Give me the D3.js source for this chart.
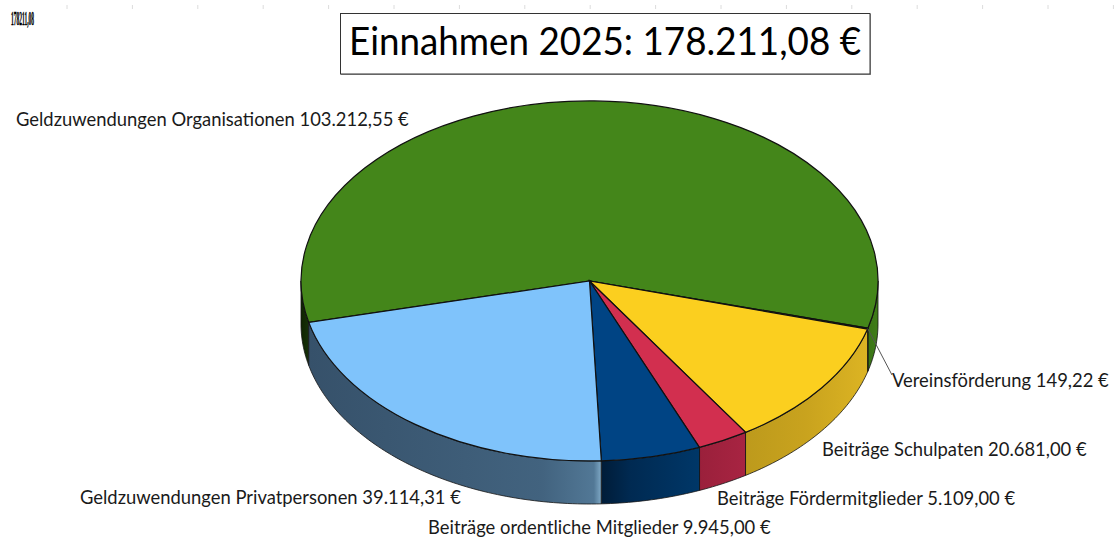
<!DOCTYPE html>
<html>
<head>
<meta charset="utf-8">
<script src="https://cdnjs.cloudflare.com/ajax/libs/d3/7.8.5/d3.min.js"></script>
<style>
  html, body { margin: 0; padding: 0; background: #fff; }
  svg { display: block; font-family: Lato, sans-serif; }
</style>
</head>
<body>
<svg id="chart"></svg>
<script>
const categories = [
  'Geldzuwendungen Organisationen',
  'Vereinsförderung',
  'Beiträge Schulpaten',
  'Beiträge Fördermitglieder',
  'Beiträge ordentliche Mitglieder',
  'Geldzuwendungen Privatpersonen'
];
const values = [103212.55, 149.22, 20681.00, 5109.00, 9945.00, 39114.31];
const valueLabels = ['103.212,55 €', '149,22 €', '20.681,00 €', '5.109,00 €', '9.945,00 €', '39.114,31 €'];
const topColors = ['#44861a', '#44861a', '#fbcf1f', '#d22f4f', '#004484', '#7fc3fb'];
// gradient stops of each side wall, from the slice's start angle to its end angle
const wallStops = [
  [[[0, '#16300a'], [1, '#0f2400']], [[0, '#3f7d18'], [1, '#3a7416']]],
  [[[0, '#3f7d18'], [1, '#3f7d18']]],
  [[[0, '#dcb423'], [0.5, '#c9a31e'], [1, '#bd9a1c']]],
  [[[0, '#a82442'], [1, '#9a203b']]],
  [[[0, '#003768'], [0.7, '#002a52'], [1, '#001c38']]],
  [[[0, '#7fa9c6'], [0.025, '#527896'], [0.2, '#42637f'], [1, '#36516a']]]
];
const titleText = 'Einnahmen 2025: 178.211,08 €';
const stampText = '178211,08';
const rulerTicks = d3.range(1, 18);

const width = 1118, height = 537;
const cx = 589.5, cy = 281, rx = 288.5, ry = 180, depth = 43;

const svg = d3.select('#chart').attr('width', width).attr('height', height);
const defs = svg.append('defs');

// ruler marks along the top edge
const rulerX = d3.scaleLinear().domain([0, 1]).range([1.6, 67]);
svg.append('g').selectAll('line').data(rulerTicks).join('line')
  .attr('x1', d => rulerX(d)).attr('x2', d => rulerX(d))
  .attr('y1', 5).attr('y2', 9)
  .attr('stroke', '#dcdcdc');

// pie angles, d3 measures from 12 o'clock going clockwise
const pie = d3.pie().sort(null).startAngle(4.48).endAngle(4.48 + 2 * Math.PI);
const arcs = pie(values);

const px = a => cx + rx * Math.sin(a);
const py = a => cy - ry * Math.cos(a);

// parts of a slice that lie on the front half of the ellipse
function frontParts(d) {
  const parts = [];
  for (let k = 0; k < 2; k++) {
    const lo = Math.max(d.startAngle, Math.PI / 2 + k * 2 * Math.PI);
    const hi = Math.min(d.endAngle, 3 * Math.PI / 2 + k * 2 * Math.PI);
    if (hi > lo) parts.push([lo, hi]);
  }
  return parts;
}

function wallPath(lo, hi) {
  const n = Math.max(2, Math.ceil((hi - lo) * 60));
  const angles = d3.range(n + 1).map(i => lo + (hi - lo) * i / n);
  const upper = angles.map(a => [px(a), py(a)]);
  const lower = angles.slice().reverse().map(a => [px(a), py(a) + depth]);
  return d3.line()(upper.concat(lower)) + 'Z';
}

// side walls
const walls = svg.append('g');
arcs.forEach((d, i) => {
  frontParts(d).forEach((part, j) => {
    const id = `wall-${i}-${j}`;
    const grad = defs.append('linearGradient').attr('id', id)
      .attr('gradientUnits', 'userSpaceOnUse')
      .attr('x1', px(part[0])).attr('x2', px(part[1]))
      .attr('y1', 0).attr('y2', 0);
    grad.selectAll('stop').data(wallStops[i][j]).join('stop')
      .attr('offset', s => s[0])
      .attr('stop-color', s => s[1]);
    walls.append('path')
      .attr('d', wallPath(part[0], part[1]))
      .attr('fill', `url(#${id})`)
      .attr('stroke', '#141414')
      .attr('stroke-width', 0.8)
      .attr('stroke-linejoin', 'round');
  });
});

// top faces
const unitArc = d3.arc().innerRadius(0).outerRadius(1);
svg.append('g')
  .attr('transform', `translate(${cx},${cy}) scale(${rx},${ry})`)
  .selectAll('path').data(arcs).join('path')
  .attr('d', unitArc)
  .attr('fill', (d, i) => topColors[i])
  .attr('stroke', '#111')
  .attr('stroke-width', 1.2)
  .attr('vector-effect', 'non-scaling-stroke');

// leader line for the tiny slice
const vf = arcs[1];
const vfMid = (vf.startAngle + vf.endAngle) / 2;
svg.append('line')
  .attr('x1', px(vfMid)).attr('y1', py(vfMid))
  .attr('x2', 892).attr('y2', 375)
  .attr('stroke', '#555').attr('stroke-width', 1);

// slice labels
const labelPos = [
  { x: 16, y: 126 },
  { x: 892, y: 387 },
  { x: 822, y: 456 },
  { x: 717, y: 505 },
  { x: 428, y: 534 },
  { x: 80, y: 504 }
];
svg.append('g').selectAll('text').data(categories).join('text')
  .attr('x', (d, i) => labelPos[i].x)
  .attr('y', (d, i) => labelPos[i].y)
  .attr('font-size', 18.4)
  .attr('fill', '#1a1a1a')
  .text((d, i) => `${d} ${valueLabels[i]}`);

// title box
svg.append('rect')
  .attr('x', 341).attr('y', 14).attr('width', 530).attr('height', 61)
  .attr('fill', '#999');
svg.append('rect')
  .attr('x', 340.5).attr('y', 13.5).attr('width', 529.5).attr('height', 60.5)
  .attr('fill', '#fff').attr('stroke', '#333').attr('stroke-width', 1);
svg.append('text')
  .attr('x', 349).attr('y', 55)
  .attr('textLength', 512)
  .attr('lengthAdjust', 'spacingAndGlyphs')
  .attr('font-size', 39)
  .attr('fill', '#000')
  .text(titleText);

// squeezed number in the corner
svg.append('text')
  .attr('transform', 'translate(11,25) scale(0.46,1.65)')
  .attr('font-family', 'Liberation Serif')
  .attr('font-weight', 'bold')
  .attr('font-size', 12)
  .attr('fill', '#000')
  .attr('stroke', '#000')
  .attr('stroke-width', 0.3)
  .text(stampText);
</script>
</body>
</html>
